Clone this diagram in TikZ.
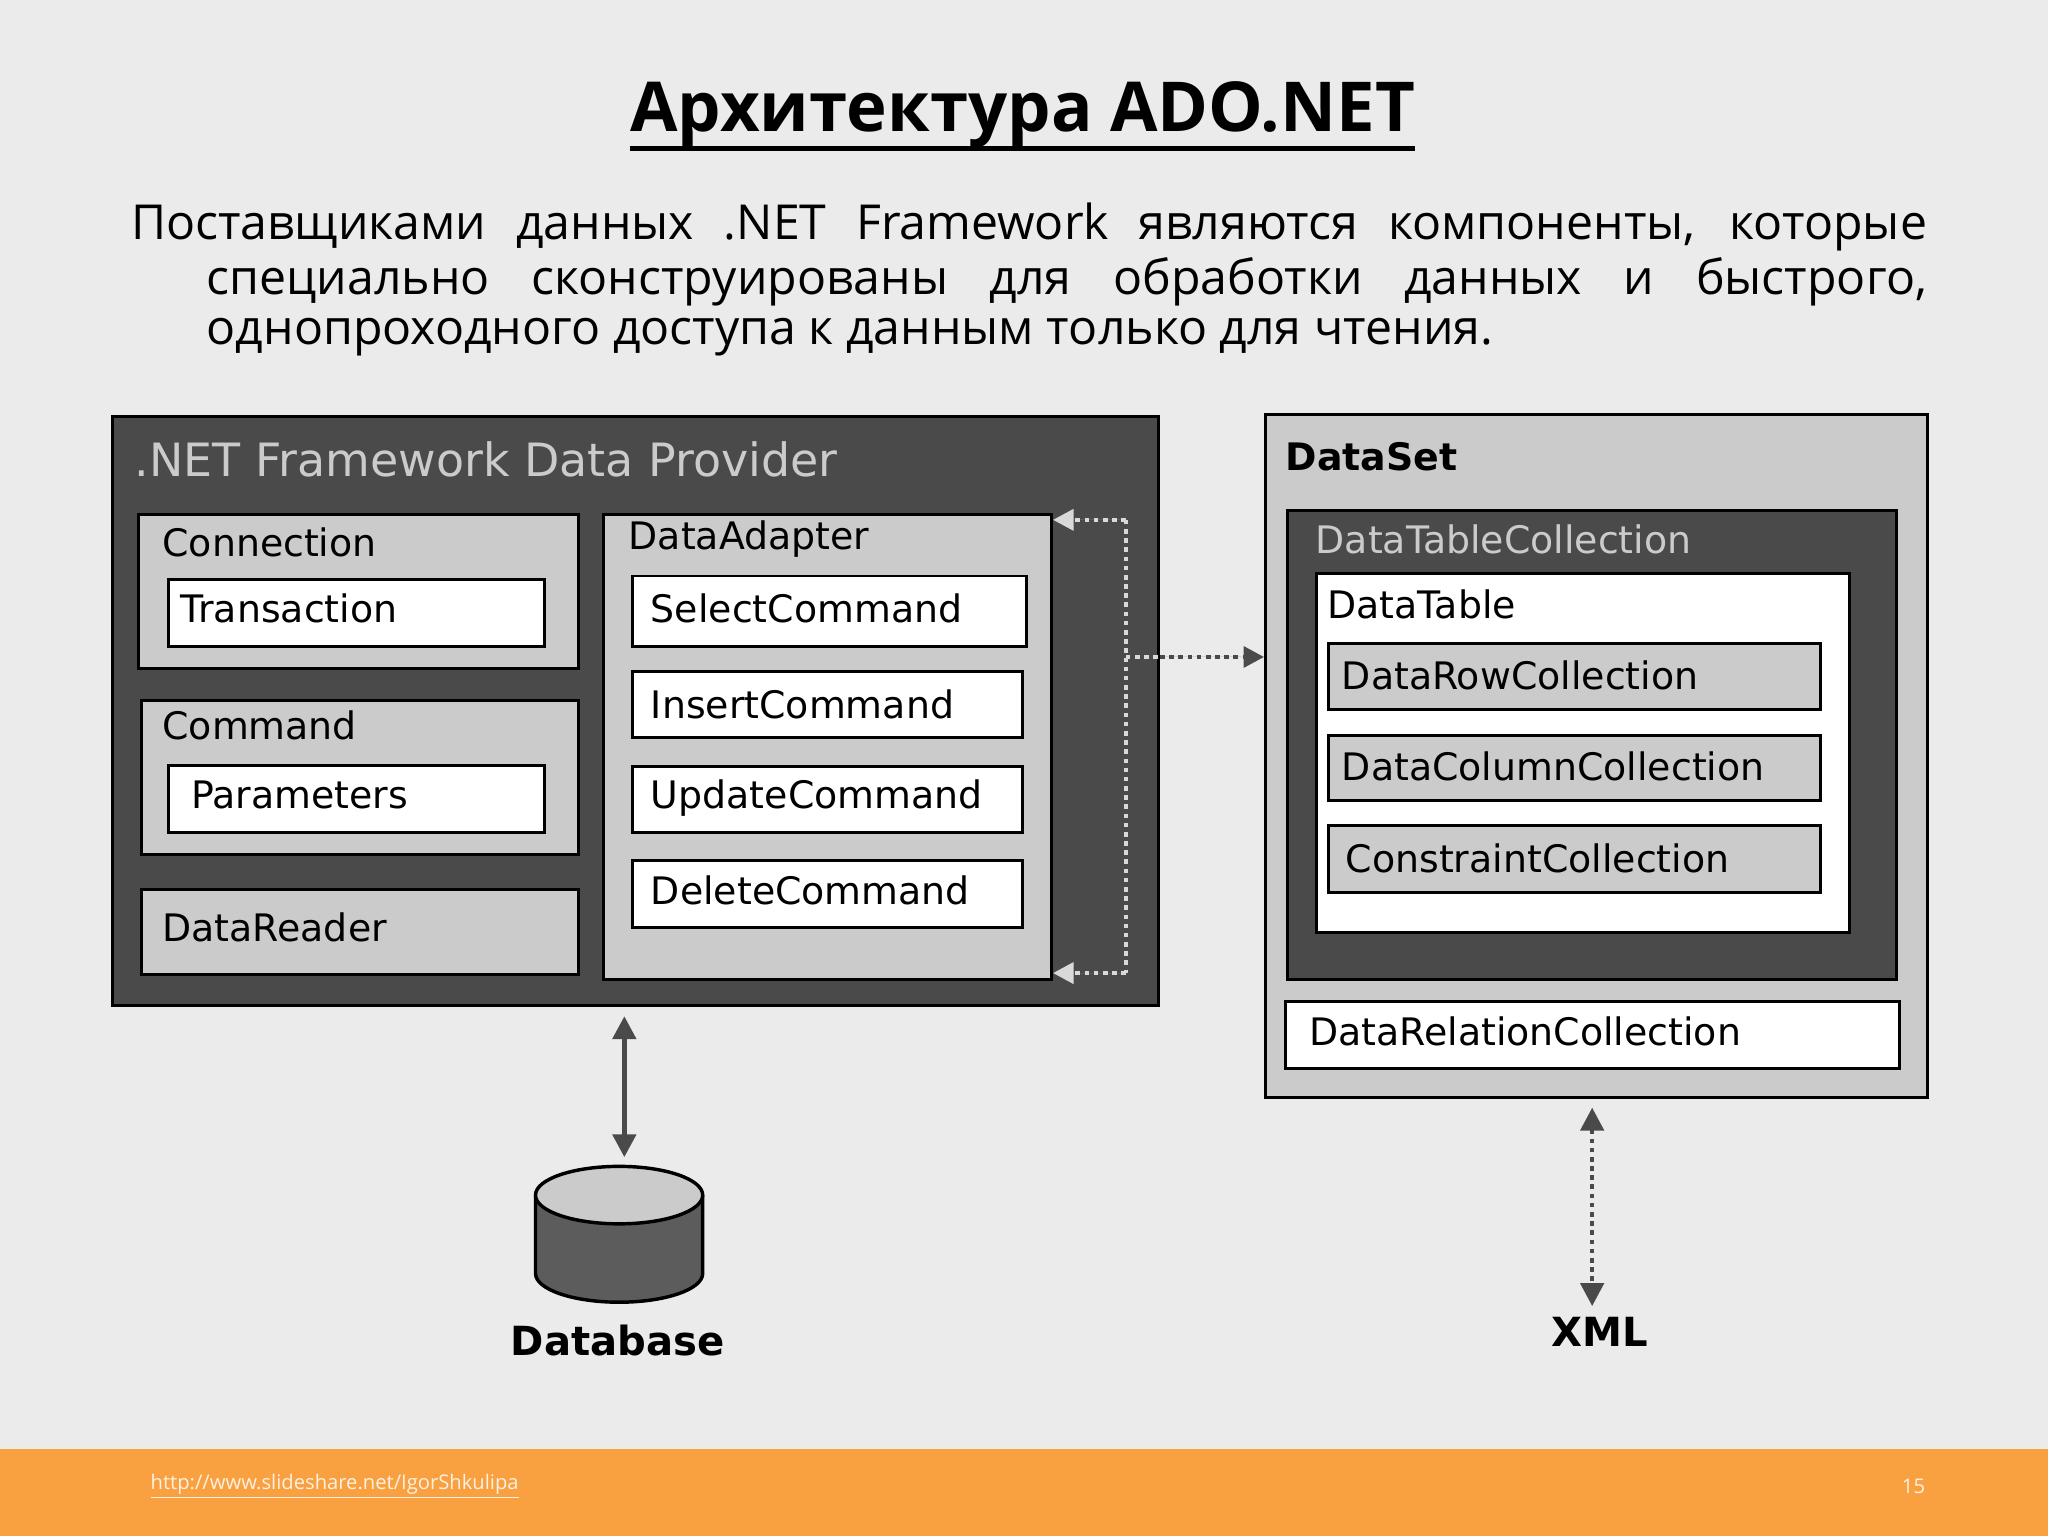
\documentclass[tikz,border=0pt]{standalone}
\usepackage{fontspec}
\setmainfont{Open Sans}
\newfontfamily\diag{DejaVu Sans}
\usetikzlibrary{fit,arrows.meta}
\definecolor{bg}{HTML}{EBEBEB}
\definecolor{dark}{HTML}{4A4A4A}
\definecolor{mid}{HTML}{CBCBCB}
\definecolor{orng}{HTML}{F9A040}
\tikzset{
 box/.style={draw=black, line width=1.3pt, inner sep=0pt},
 darkbox/.style={box, fill=dark},
 midbox/.style={box, fill=mid},
 whitebox/.style={box, fill=white},
 lbl/.style={anchor=west, inner sep=0pt, font=\diag\fontsize{16.5}{18}\selectfont},
 dotarrow/.style={line width=2pt, dotted, -{Triangle[length=9pt,width=9pt]}},
}
\begin{document}
\begin{tikzpicture}[x=0.02cm,y=-0.02cm]
\fill[bg] (0,0) rectangle (1568,1176);
\useasboundingbox (0,0) rectangle (1568,1176);
\fill[orng] (0,1109) rectangle (1568,1176);
% title
\node[font=\bfseries\fontsize{30}{34}\selectfont, inner sep=0pt] (title) at (783,88) {Архитектура ADO.NET};
\draw[line width=2.2pt] ([yshift=0pt]title.south west) -- ([yshift=0pt]title.south east);
% paragraph
\node[anchor=west, inner sep=0pt, font=\fontsize{21}{24}\selectfont] (p1) at (100,174) {\makebox[1375\dimexpr0.02cm\relax][s]{Поставщиками данных .NET Framework являются компоненты, которые}};
\node[anchor=west, inner sep=0pt, font=\fontsize{21}{24}\selectfont] (p2) at (158,216) {\makebox[1317\dimexpr0.02cm\relax][s]{специально сконструированы для обработки данных и быстрого,}};
\node[anchor=west, inner sep=0pt, font=\fontsize{21}{24}\selectfont] (p3) at (158,258) {однопроходного доступа к данным только для чтения.};
% provider
\node[darkbox, fit={(86,319)(887,770)}] (prov) {};
\node[lbl, text=mid, font=\diag\fontsize{20}{22}\selectfont] (provl) at (103,352) {.NET Framework Data Provider};
\node[midbox, fit={(106,394)(443,512)}] (conn) {};
\node[lbl] at (124,415) {Connection};
\node[whitebox, fit={(129,444)(417,495)}] (trans) {};
\node[lbl] at (138,466) {Transaction};
\node[midbox, fit={(108,536)(443,654)}] (cmd) {};
\node[lbl] at (124,555) {Command};
\node[whitebox, fit={(129,586)(417,637)}] (par) {};
\node[lbl] at (146,609) {Parameters};
\node[midbox, fit={(108,681)(443,746)}] (rdr) {};
\node[lbl] at (124,710) {DataReader};
\node[midbox, fit={(462,394)(805,750)}] (adp) {};
\node[lbl] at (481,413) {DataAdapter};
\node[whitebox, fit={(484,441)(786,495)}] (sel) {};
\node[lbl] at (498,466) {SelectCommand};
\node[whitebox, fit={(484,514)(783,565)}] (ins) {};
\node[lbl] at (498,539) {InsertCommand};
\node[whitebox, fit={(484,587)(783,637)}] (upd) {};
\node[lbl] at (498,611) {UpdateCommand};
\node[whitebox, fit={(484,659)(783,710)}] (del) {};
\node[lbl] at (498,682) {DeleteCommand};
% dataset
\node[midbox, fit={(969,317)(1476,840)}] (ds) {};
\node[lbl, font=\diag\bfseries\fontsize{16.5}{18}\selectfont] at (984,350) {DataSet};
\node[darkbox, fit={(986,391)(1452,750)}] (dtc) {};
\node[lbl, text=mid] at (1007,413) {DataTableCollection};
\node[whitebox, fit={(1008,439)(1416,714)}] (dt) {};
\node[lbl] at (1016,463) {DataTable};
\node[midbox, fit={(1017,493)(1394,543)}] (drc) {};
\node[lbl] at (1027,517) {DataRowCollection};
\node[midbox, fit={(1017,563)(1394,613)}] (dcc) {};
\node[lbl] at (1027,587) {DataColumnCollection};
\node[midbox, fit={(1017,632)(1394,683)}] (cc) {};
\node[lbl] at (1030,657) {ConstraintCollection};
\node[whitebox, fit={(984,767)(1454,818)}] (drel) {};
\node[lbl] at (1002,790) {DataRelationCollection};
% adapter dotted loop
\coordinate (t1) at (862,398);
\coordinate (t2) at (862,745);
\coordinate (tm) at (862,503);
\draw[line width=2pt, dotted, draw=white!85!black] (t1) -- (t2);
\draw[dotarrow, draw=white!85!black, fill=white!85!black] (t1) -- (adp.east |- t1);
\draw[dotarrow, draw=white!85!black, fill=white!85!black] (t2) -- (adp.east |- t2);
\draw[line width=2pt, dotted, draw=white!85!black] (tm) -- (prov.east |- tm);
\draw[dotarrow, draw=dark, fill=dark] (prov.east |- tm) -- (ds.west |- tm);
% database
\draw[line width=1.5pt, fill=dark!90] (410,915) -- (410,975) arc[start angle=180,end angle=0,x radius=64,y radius=22] -- (538,915);
\draw[line width=1.5pt, fill=mid] (474,915) ellipse[x radius=64, y radius=22];
\node (db) at (474,946) {};
\node[font=\diag\bfseries\fontsize{17.5}{19}\selectfont] (dbl) at (473,1026) {Database};
\draw[line width=2.2pt, draw=dark, {Triangle[length=10pt,width=10pt]}-{Triangle[length=10pt,width=10pt]}] (478,778) -- (478,886);
% xml
\node[font=\diag\bfseries\fontsize{17.5}{19}\selectfont] (xml) at (1225,1020) {XML};
\draw[line width=2pt, dotted, draw=dark, {Triangle[length=10pt,width=10pt]}-{Triangle[length=10pt,width=10pt]}] (1219,848) -- (1219,1000);
% footer
\node[anchor=west, inner sep=0pt, text=white!85!orng, font=\fontsize{8.8}{10}\selectfont] (url) at (115,1138) {\underline{http://www.slideshare.net/IgorShkulipa}};
\node[inner sep=0pt, text=white!85!orng, font=\fontsize{8.8}{10}\selectfont] (pg) at (1465,1138) {15};
\end{tikzpicture}
\end{document}
